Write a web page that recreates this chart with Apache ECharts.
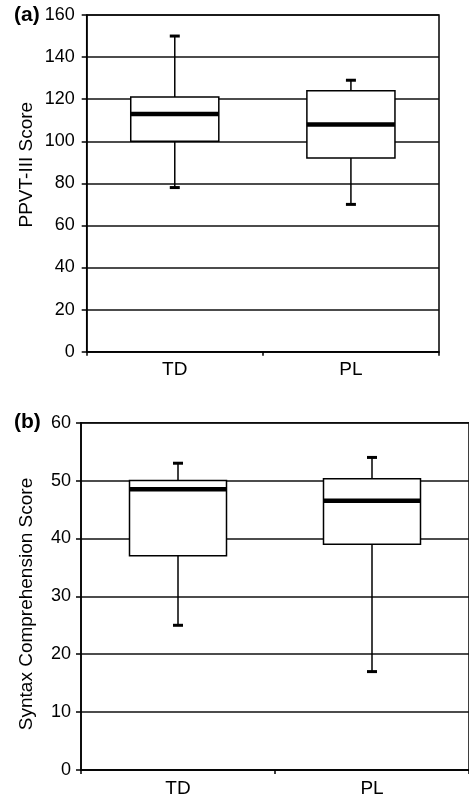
<!DOCTYPE html>
<html>
<head>
<meta charset="utf-8">
<script src="https://cdn.jsdelivr.net/npm/echarts@6/dist/echarts.min.js"></script>
<style>
html,body{margin:0;padding:0;background:#fff;}
#chart{width:469px;height:798px;}
</style>
</head>
<body>
<div id="chart"></div>
<script>
// ---- Data ----
const categories = ['TD', 'PL'];
// [min, Q1, median, Q3, max]
const ppvtTD = [78, 100, 113, 121, 150];
const ppvtPL = [70, 92, 108, 124, 129];
const syntaxTD = [25, 37, 48.5, 50, 53];
const syntaxPL = [17, 39, 46.5, 50.3, 54];
const ppvtAxis = { min: 0, max: 160, interval: 20 };
const syntaxAxis = { min: 0, max: 60, interval: 10 };
const panelLabels = ['(a)', '(b)'];
const axisNames = ['PPVT-III Score', 'Syntax Comprehension Score'];

const FONT = '"Liberation Sans", Arial, Helvetica, sans-serif';

function renderBox(params, api) {
  const i = api.value(0);
  const pMin = api.coord([i, api.value(1)]);
  const pQ1 = api.coord([i, api.value(2)]);
  const pMed = api.coord([i, api.value(3)]);
  const pQ3 = api.coord([i, api.value(4)]);
  const pMax = api.coord([i, api.value(5)]);
  const band = api.size([1, 0])[0];
  const half = band * 0.25;
  const cx = pMed[0];
  const cap = 5;
  const thin = { stroke: '#000', lineWidth: 1.5, fill: null };
  return {
    type: 'group',
    children: [
      { type: 'line', shape: { x1: cx, y1: pMax[1], x2: cx, y2: pQ3[1] }, style: thin },
      { type: 'line', shape: { x1: cx, y1: pQ1[1], x2: cx, y2: pMin[1] }, style: thin },
      { type: 'line', shape: { x1: cx - cap, y1: pMax[1], x2: cx + cap, y2: pMax[1] }, style: { stroke: '#000', lineWidth: 3 } },
      { type: 'line', shape: { x1: cx - cap, y1: pMin[1], x2: cx + cap, y2: pMin[1] }, style: { stroke: '#000', lineWidth: 3 } },
      { type: 'rect', shape: { x: cx - half, y: pQ3[1], width: 2 * half, height: pQ1[1] - pQ3[1] }, style: { fill: '#fff', stroke: '#000', lineWidth: 1.5 } },
      { type: 'line', shape: { x1: cx - half, y1: pMed[1], x2: cx + half, y2: pMed[1] }, style: { stroke: '#000', lineWidth: 4.5 } }
    ]
  };
}

function yAxisCfg(idx, ax, margin) {
  return {
    gridIndex: idx, type: 'value', min: ax.min, max: ax.max, interval: ax.interval,
    axisLine: { show: true, lineStyle: { color: '#000', width: 1.5 } },
    axisTick: { show: true, inside: false, length: 5, lineStyle: { color: '#000', width: 1.5 } },
    axisLabel: { color: '#000', fontSize: 18, fontFamily: FONT, margin: margin },
    splitLine: { show: true, lineStyle: { color: '#111', width: 1.5 } }
  };
}
function xAxisCfg(idx) {
  return {
    gridIndex: idx, type: 'category', data: categories, boundaryGap: true,
    axisLine: { show: true, lineStyle: { color: '#000', width: 1.5 } },
    axisTick: { show: true, inside: false, length: 4, alignWithLabel: false, lineStyle: { color: '#000', width: 1.5 } },
    axisLabel: { color: '#000', fontSize: 19, fontFamily: FONT, margin: 9 },
    splitLine: { show: false }
  };
}

const chart = echarts.init(document.getElementById('chart'), null, { renderer: 'canvas' });
chart.setOption({
  backgroundColor: '#fff',
  animation: false,
  grid: [
    { left: 86.7, top: 15, width: 352.3, height: 336.7, show: true, borderColor: '#000', borderWidth: 1.5, backgroundColor: 'transparent' },
    { left: 81, top: 422.7, width: 391.3, height: 349, show: true, borderColor: '#000', borderWidth: 1.5, backgroundColor: 'transparent' }
  ],
  xAxis: [xAxisCfg(0), xAxisCfg(1)],
  yAxis: [yAxisCfg(0, ppvtAxis, 12), yAxisCfg(1, syntaxAxis, 10)],
  graphic: [
    { type: 'text', left: 14, top: 5, style: { text: panelLabels[0], font: 'bold 21px ' + FONT, fill: '#000' } },
    { type: 'text', left: 14, top: 411.5, style: { text: panelLabels[1], font: 'bold 21px ' + FONT, fill: '#000' } },
    { type: 'text', x: 27, y: 164.7, rotation: Math.PI / 2, style: { text: axisNames[0], font: '19px ' + FONT, fill: '#000', align: 'center', verticalAlign: 'middle' } },
    { type: 'text', x: 27, y: 604, rotation: Math.PI / 2, style: { text: axisNames[1], font: '19px ' + FONT, fill: '#000', align: 'center', verticalAlign: 'middle' } }
  ],
  series: [
    {
      type: 'custom', xAxisIndex: 0, yAxisIndex: 0, renderItem: renderBox, clip: false, z: 5,
      encode: { x: 0, y: [1, 2, 3, 4, 5] },
      data: [[0].concat(ppvtTD), [1].concat(ppvtPL)]
    },
    {
      type: 'custom', xAxisIndex: 1, yAxisIndex: 1, renderItem: renderBox, clip: false, z: 5,
      encode: { x: 0, y: [1, 2, 3, 4, 5] },
      data: [[0].concat(syntaxTD), [1].concat(syntaxPL)]
    }
  ]
});
</script>
</body>
</html>
